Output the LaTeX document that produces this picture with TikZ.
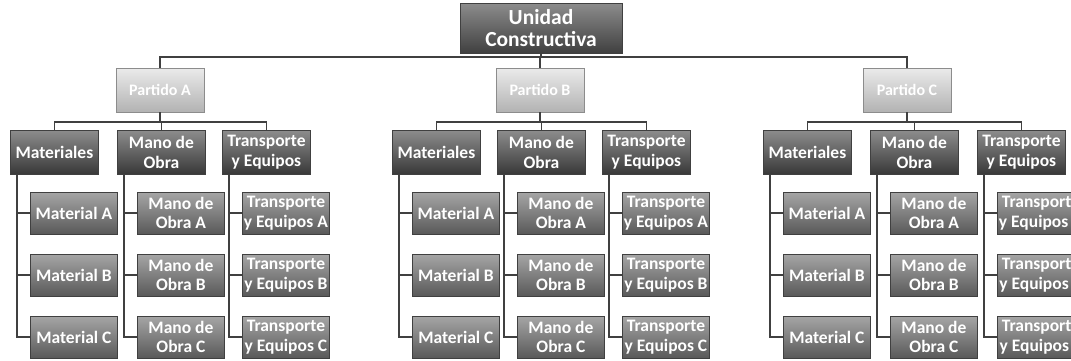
\documentclass[tikz,border=0pt]{standalone}
\usepackage{fontspec}
\setmainfont{Carlito}
\begin{document}
\begin{tikzpicture}[x=1pt,y=-1pt,
  box/.style={draw=black!75, line width=0.8pt, text=white, align=center, inner sep=0pt, font=\bfseries\fontsize{17.5}{19.5}\selectfont},
  lvlzero/.style={box, top color=black!45, bottom color=black!75, minimum width=162pt, minimum height=50pt, font=\bfseries\fontsize{21.5}{22}\selectfont},
  lvlone/.style={box, draw=black!45, top color=black!8, bottom color=black!30, minimum width=88pt, minimum height=44pt, font=\bfseries\fontsize{16}{18}\selectfont},
  lvltwo/.style={box, top color=black!45, bottom color=black!78, minimum width=88pt, minimum height=44pt},
  lvlthree/.style={box, top color=black!35, bottom color=black!65, minimum width=87pt, minimum height=42pt},
  conn/.style={draw=black!75, line width=1.8pt}]
\useasboundingbox (0,0) rectangle (1071,360);
\node[lvlzero] (u) at (541,28) {Unidad\\Constructiva};
\coordinate (top) at (541,57);
\foreach \g/\px/\la/\lb/\lc in {A/160/10/117/222, B/540/392/497/602, C/907/763/870/977}{
  \node[lvlone] (p\g) at (\px,90) {Partido \g};
  \node[lvltwo, anchor=north west] (m\g) at (\la,130) {Materiales};
  \node[lvltwo, anchor=north west] (o\g) at (\lb,130) {Mano de\\Obra};
  \node[lvltwo, anchor=north west] (t\g) at (\lc,130) {Transporte\\y Equipos};
  \coordinate (b\g) at (\px,122);
  \draw[conn] (p\g.south) -- (b\g);
  \draw[conn] (m\g.north) |- (b\g) -| (t\g.north);
  \draw[conn] (o\g.north) -- (o\g.north |- b\g);
  \coordinate (sm\g) at ([xshift=7pt]m\g.south west);
  \coordinate (so\g) at ([xshift=7pt]o\g.south west);
  \coordinate (st\g) at ([xshift=7pt]t\g.south west);
  \foreach \r/\yy in {A/213, B/275, C/337}{
    \node[lvlthree, anchor=west] (m\g\r) at (\la+20,\yy) {Material \r};
    \node[lvlthree, anchor=west] (o\g\r) at (\lb+20,\yy) {Mano de\\Obra \r};
    \node[lvlthree, anchor=west] (t\g\r) at (\lc+20,\yy) {Transporte\\y Equipos \r};
  }
  \draw[conn] (sm\g) |- (m\g C.west);
  \draw[conn] (so\g) |- (o\g C.west);
  \draw[conn] (st\g) |- (t\g C.west);
  \foreach \r in {A,B}{
    \draw[conn] (sm\g |- m\g\r.west) -- (m\g\r.west);
    \draw[conn] (so\g |- o\g\r.west) -- (o\g\r.west);
    \draw[conn] (st\g |- t\g\r.west) -- (t\g\r.west);
  }
}
\draw[conn] (u.south) -- (top);
\draw[conn] (pA.north) |- (top) -| (pC.north);
\draw[conn] (pB.north) -- (pB.north |- top);
\end{tikzpicture}
\end{document}
